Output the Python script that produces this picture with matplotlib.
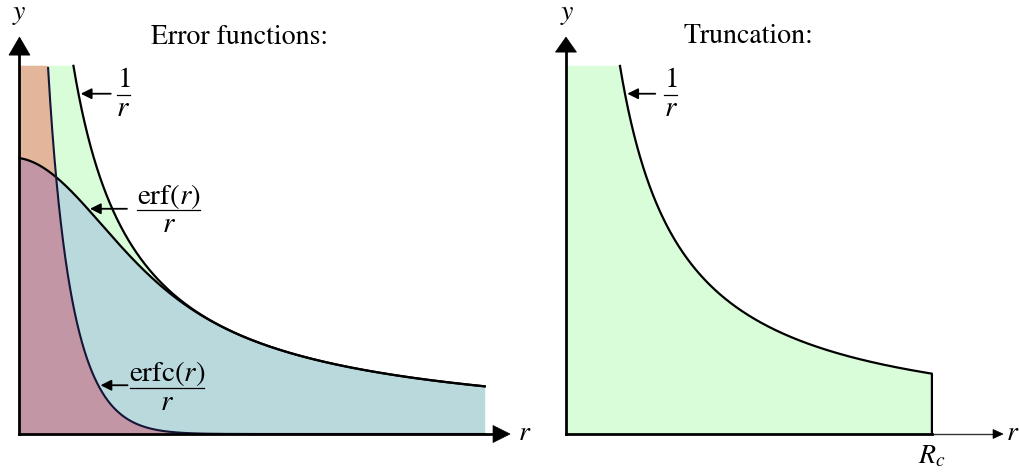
import math
import numpy as np
import matplotlib
matplotlib.use("Agg")
import matplotlib.pyplot as plt
from matplotlib.patches import Polygon
from matplotlib.lines import Line2D
from matplotlib.transforms import IdentityTransform

plt.rcParams["mathtext.fontset"] = "stix"
plt.rcParams["font.family"] = ["STIXGeneral", "DejaVu Serif"]

# ---- quantities shown in the sketch ---------------------------------------
r_start = 0.078      # where the y axis sits
r_end = 5.14         # right end of the error-function fills
r_cut = 4.06         # truncation radius R_c
y_clip = 1.505       # curves are cut off at this height
y_axis_top = 1.62    # tip of the y arrows
x_axis_left = 5.416  # tip of the left r arrow
x_axis_right = 4.834 # tip of the right r arrow

panel_titles = ["Error functions:", "Truncation:"]
numerators = [r"$1$", r"$\mathrm{erf}(r)$", r"$\mathrm{erfc}(r)$"]
denominator = r"$r$"

erf = np.vectorize(math.erf)
erfc = np.vectorize(math.erfc)

# ---- colours ---------------------------------------------------------------
c_green = "#d9fcd9"
c_blue = "#b9d9dd"
c_orange = "#e3b59b"
c_mauve = "#c396a5"
c_navy = "#151538"

# ---- figure / pixel layout -------------------------------------------------
W, H = 1019, 473
SX, SY = 91.9, 245.0          # pixels per unit in r and y
Y0 = 434.0                    # pixel row of y = 0
X0_LEFT, X0_RIGHT = 12.3, 558.8
SPLIT = 540

fig = plt.figure(figsize=(W / 100, H / 100), dpi=100)


def make_axes(x_from, x_to, x0):
    ax = fig.add_axes([x_from / W, 0, (x_to - x_from) / W, 1])
    ax.set_xlim((x_from - x0) / SX, (x_to - x0) / SX)
    ax.set_ylim((Y0 - H) / SY, Y0 / SY)
    ax.axis("off")
    return ax


axL = make_axes(0, SPLIT, X0_LEFT)
axR = make_axes(SPLIT, W, X0_RIGHT)


def arrow_head(ax, tip, direction, length, width):
    tx, ty = ax.transData.transform(tip)
    dx, dy = direction
    bx, by = tx - dx * length, ty - dy * length
    px, py = -dy * width / 2, dx * width / 2
    verts = [(tx, ty), (bx + px, by + py), (bx - px, by - py)]
    ax.add_patch(Polygon(verts, closed=True, facecolor="black", edgecolor="black",
                         lw=0.5, transform=IdentityTransform(), clip_on=False,
                         zorder=6))
    return ax.transData.inverted().transform((bx, by))


# ---- left panel: 1/r, erf(r)/r, erfc(r)/r ---------------------------------
r = np.linspace(r_start, r_end, 2000)
inv = 1.0 / r
f_erf = erf(r) / r
f_erfc = erfc(r) / r

axL.fill_between(r, 0, np.minimum(inv, y_clip), color=c_green, lw=0, zorder=1)
axL.fill_between(r, 0, f_erf, color=c_blue, lw=0, zorder=2)
axL.fill_between(r, 0, np.minimum(f_erfc, y_clip), color=c_orange, lw=0, zorder=3)
axL.fill_between(r, 0, np.minimum(np.minimum(f_erf, f_erfc), y_clip),
                 color=c_mauve, lw=0, zorder=4)

m = inv <= y_clip
axL.plot(r[m], inv[m], color="black", lw=1.6, zorder=5)
axL.plot(r, f_erf, color="black", lw=1.6, zorder=5)
m = f_erfc <= y_clip
axL.plot(r[m], f_erfc[m], color=c_navy, lw=1.5, zorder=5)

# axes with arrows
by = arrow_head(axL, (r_start, y_axis_top), (0, 1), 18, 21)[1]
axL.plot([r_start, r_start], [0, by], color="black", lw=2.0,
         solid_capstyle="projecting", zorder=6)
bx = arrow_head(axL, (x_axis_left, 0), (1, 0), 17, 17)[0]
axL.plot([r_start, bx], [0, 0], color="black", lw=2.0,
         solid_capstyle="projecting", zorder=6)

# ---- right panel: truncated 1/r --------------------------------------------
rt = np.linspace(r_start, r_cut, 2000)
inv_t = 1.0 / rt
axR.fill_between(rt, 0, np.minimum(inv_t, y_clip), color=c_green, lw=0, zorder=1)
m = inv_t <= y_clip
axR.plot(np.r_[rt[m], r_cut], np.r_[inv_t[m], 0], color="black", lw=1.6,
         zorder=5)

by = arrow_head(axR, (r_start, y_axis_top), (0, 1), 15, 21)[1]
axR.plot([r_start, r_start], [0, by], color="black", lw=2.0,
         solid_capstyle="projecting", zorder=6)
bx = arrow_head(axR, (x_axis_right, 0), (1, 0), 10, 9)[0]
axR.plot([r_cut, bx], [0, 0], color="#333333", lw=1.0, zorder=5)
axR.plot([r_start, r_cut], [0, 0], color="black", lw=2.0,
         solid_capstyle="projecting", zorder=6)

# ---- labels ----------------------------------------------------------------
def ftext(x, y, s, **kw):
    kw.setdefault("ha", "center")
    kw.setdefault("va", "center")
    kw.setdefault("fontsize", 20)
    fig.text(x / W, 1 - y / H, s, **kw)


def fraction(xc, ybar, num, width, up=15, down=15):
    ftext(xc, ybar - up, num, fontsize=21)
    ftext(xc, ybar + down, denominator, fontsize=21)
    fig.add_artist(Line2D([(xc - width / 2) / W, (xc + width / 2) / W],
                          [1 - ybar / H, 1 - ybar / H], color="black", lw=0.9))


ftext(240, 37, panel_titles[0])
ftext(748, 36, panel_titles[1])
ftext(19, 14, r"$y$")
ftext(567, 14, r"$y$")
ftext(525, 433, r"$r$")
ftext(1013, 433, r"$r$")
ftext(932, 457, r"$R_c$")

fraction(123.5, 95, numerators[0], 13, up=15, down=14)
fraction(168.5, 210, numerators[1], 63, up=14, down=15)
fraction(167, 388, numerators[2], 74, up=15, down=15)
fraction(670.5, 95, numerators[0], 13, up=15, down=14)


def pointer(ax, r_val, y_val, length, nudge=0.025):
    ax.annotate("", xy=(r_val + nudge, y_val), xycoords="data",
                xytext=(length, 0), textcoords="offset pixels",
                arrowprops=dict(arrowstyle="-|>", color="black", lw=1.3,
                                mutation_scale=16, shrinkA=0, shrinkB=0),
                zorder=7)


r_a = 0.72
pointer(axL, r_a, 1.0 / r_a, 30)
r_b = 0.82
pointer(axL, r_b, math.erf(r_b) / r_b, 37)
r_c = 0.935
pointer(axL, r_c, math.erfc(r_c) / r_c, 27)
pointer(axR, r_a, 1.0 / r_a, 28)

fig.savefig("out.png", dpi=100)
